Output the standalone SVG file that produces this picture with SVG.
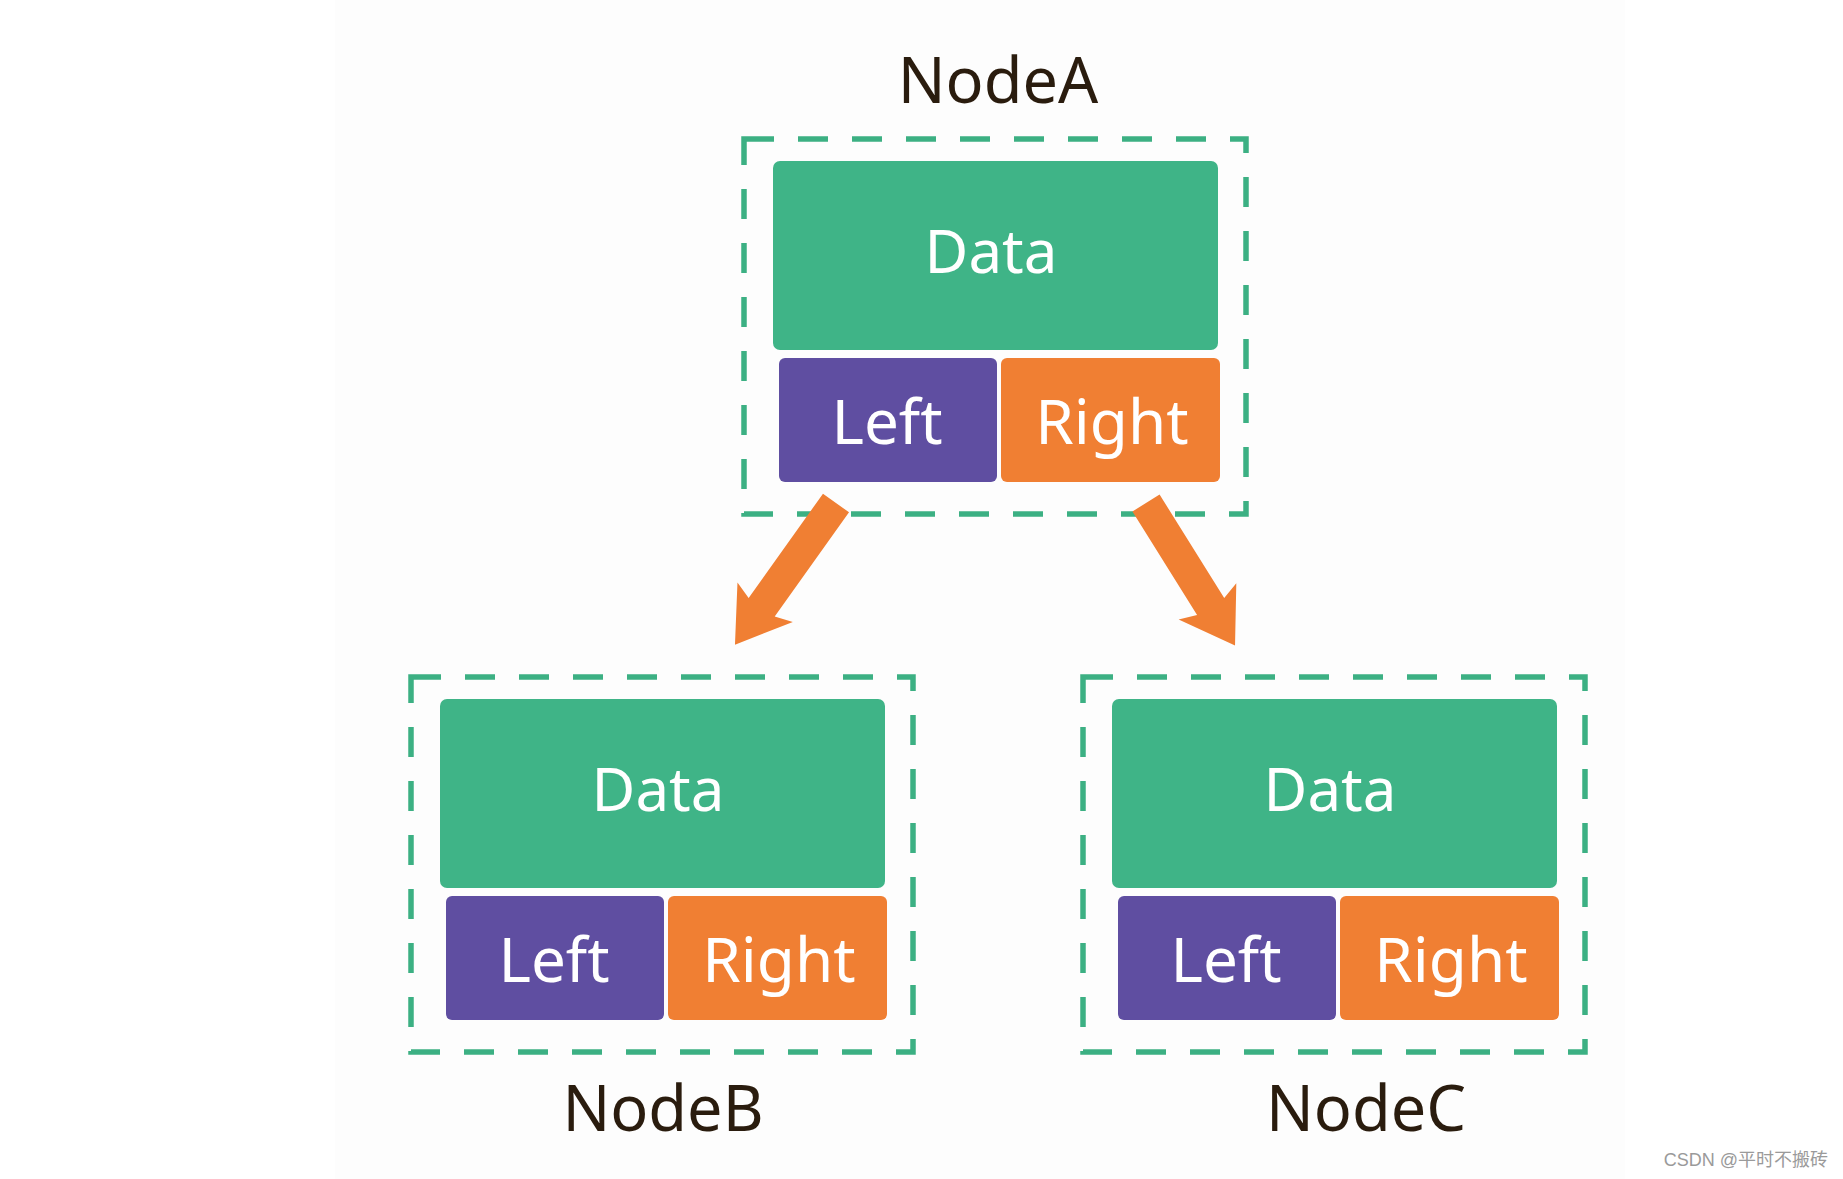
<svg xmlns="http://www.w3.org/2000/svg" width="1843" height="1179" viewBox="0 0 1843 1179">
<style>
.frame{fill:none;stroke:#3cb083;stroke-width:5.5;stroke-dasharray:30 24;}
.data{fill:#3fb487;}
.left{fill:#5f4ea1;}
.right{fill:#f07f33;}
.in{font-family:"Noto Sans","Liberation Sans",sans-serif;fill:#ffffff;text-anchor:middle;}
.title{font-family:"Noto Sans","Liberation Sans",sans-serif;fill:#2a1c0e;text-anchor:middle;font-size:63px;}
.arrow{fill:#f07f33;}
</style>
<rect x="0" y="0" width="1843" height="1179" fill="#ffffff"/>
<rect x="335" y="0" width="1290" height="1179" fill="#fdfdfd"/>

<g id="nodeA">
  <rect class="frame" x="744" y="139" width="502" height="375"/>
  <rect class="data" x="773" y="161" width="445" height="189" rx="7"/>
  <rect class="left" x="779" y="358" width="218" height="124" rx="6"/>
  <rect class="right" x="1001" y="358" width="219" height="124" rx="6"/>
  <text class="in" x="991" y="273" font-size="60">Data</text>
  <text class="in" x="887" y="444" font-size="62">Left</text>
  <text class="in" x="1112" y="444" font-size="62">Right</text>
  <text class="title" x="998" y="103">NodeA</text>
</g>

<g id="nodeB" transform="translate(-333,538)">
  <rect class="frame" x="744" y="139" width="502" height="375"/>
  <rect class="data" x="773" y="161" width="445" height="189" rx="7"/>
  <rect class="left" x="779" y="358" width="218" height="124" rx="6"/>
  <rect class="right" x="1001" y="358" width="219" height="124" rx="6"/>
  <text class="in" x="991" y="273" font-size="60">Data</text>
  <text class="in" x="887" y="444" font-size="62">Left</text>
  <text class="in" x="1112" y="444" font-size="62">Right</text>
  <text class="title" x="996" y="593">NodeB</text>
</g>

<g id="nodeC" transform="translate(339,538)">
  <rect class="frame" x="744" y="139" width="502" height="375"/>
  <rect class="data" x="773" y="161" width="445" height="189" rx="7"/>
  <rect class="left" x="779" y="358" width="218" height="124" rx="6"/>
  <rect class="right" x="1001" y="358" width="219" height="124" rx="6"/>
  <text class="in" x="991" y="273" font-size="60">Data</text>
  <text class="in" x="887" y="444" font-size="62">Left</text>
  <text class="in" x="1112" y="444" font-size="62">Right</text>
  <text class="title" x="1027" y="593">NodeC</text>
</g>

<g id="connectors">
  <polygon class="arrow" transform="translate(836,503) rotate(125.5)" points="0,-16 128,-16 122,-34 174,0 122,34 128,16 0,16"/>
  <polygon class="arrow" transform="translate(1146,503) rotate(58)" points="0,-16 122,-16 116,-34 168,0 116,34 122,16 0,16"/>
</g>

<text x="1828" y="1166" font-family="'Liberation Sans','Noto Sans CJK SC',sans-serif" font-size="18" fill="#9a9a9a" text-anchor="end">CSDN @平时不搬砖</text>
</svg>
